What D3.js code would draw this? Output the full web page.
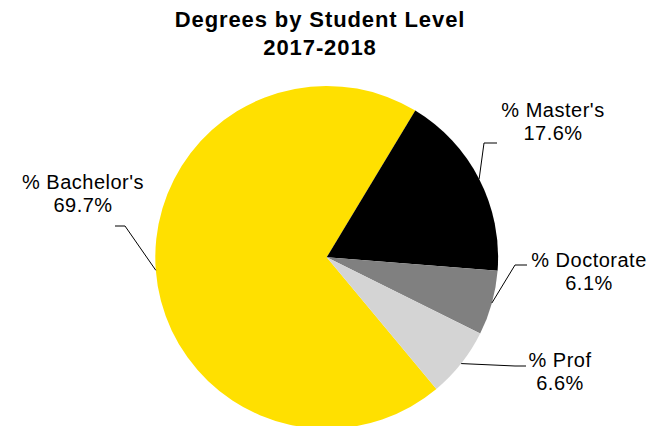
<!DOCTYPE html>
<html>
<head>
<meta charset="utf-8">
<script src="https://cdn.jsdelivr.net/npm/d3@7"></script>
<style>
  html, body { margin: 0; padding: 0; background: #fff; }
  svg { display: block; }
  text { font-family: "Liberation Sans", Arial, sans-serif; fill: #000; }
</style>
</head>
<body>
<svg id="chart" width="660" height="426"></svg>
<script>
const categories = ["% Bachelor's", "% Master's", "% Doctorate", "% Prof"];
const values = [69.7, 17.6, 6.1, 6.6];
const valueLabels = ["69.7%", "17.6%", "6.1%", "6.6%"];
const colors = ["#FFE000", "#000000", "#808080", "#D4D4D4"];
const titleLines = ["Degrees by Student Level", "2017-2018"];

// layout (not data): label text centers and leader elbow points
const labelLayout = [
  { x: 83,  y: 189, elbow: [[125, 226], [115, 226]] },
  { x: 553, y: 117, elbow: [[484, 143], [497, 143]] },
  { x: 589, y: 267, elbow: [[515, 265], [527, 265]] },
  { x: 560, y: 367, elbow: [[515, 366], [526, 366]] }
];

const W = 660, H = 426;
const cx = 326.7, cy = 257.3, R = 171.4;
const svg = d3.select("#chart");

svg.append("rect").attr("width", W).attr("height", H).attr("fill", "#fff");

svg.selectAll("text.title").data(titleLines).join("text")
  .attr("class", "title")
  .attr("x", 320).attr("y", (d, i) => 27 + i * 28)
  .attr("text-anchor", "middle")
  .attr("font-size", 22).attr("font-weight", "bold")
  .attr("letter-spacing", 0.9)
  .text(d => d);

const data = categories.map((c, i) => ({ cat: c, value: values[i], label: valueLabels[i], color: colors[i], i }));

const pie = d3.pie().sort(null).value(d => d.value)
  .startAngle(140.2 * Math.PI / 180)
  .endAngle(140.2 * Math.PI / 180 + 2 * Math.PI);
const arcs = pie(data);
const arc = d3.arc().innerRadius(0).outerRadius(R);

const g = svg.append("g").attr("transform", `translate(${cx},${cy})`);
g.selectAll("path").data(arcs).join("path")
  .attr("d", arc)
  .attr("fill", d => d.data.color);

// leader lines
const line = d3.line();
arcs.forEach(a => {
  const mid = (a.startAngle + a.endAngle) / 2;
  const p0 = [cx + R * Math.sin(mid), cy - R * Math.cos(mid)];
  const L = labelLayout[a.data.i];
  svg.append("path")
    .attr("d", line([p0, ...L.elbow]))
    .attr("fill", "none").attr("stroke", "#000").attr("stroke-width", 1);
});

// labels
arcs.forEach(a => {
  const L = labelLayout[a.data.i];
  const t = svg.append("text")
    .attr("text-anchor", "middle")
    .attr("font-size", 20)
    .attr("letter-spacing", 0.5);
  t.append("tspan").attr("x", L.x).attr("y", L.y).text(a.data.cat);
  t.append("tspan").attr("x", L.x).attr("y", L.y + 23).text(a.data.label);
});
</script>
</body>
</html>
